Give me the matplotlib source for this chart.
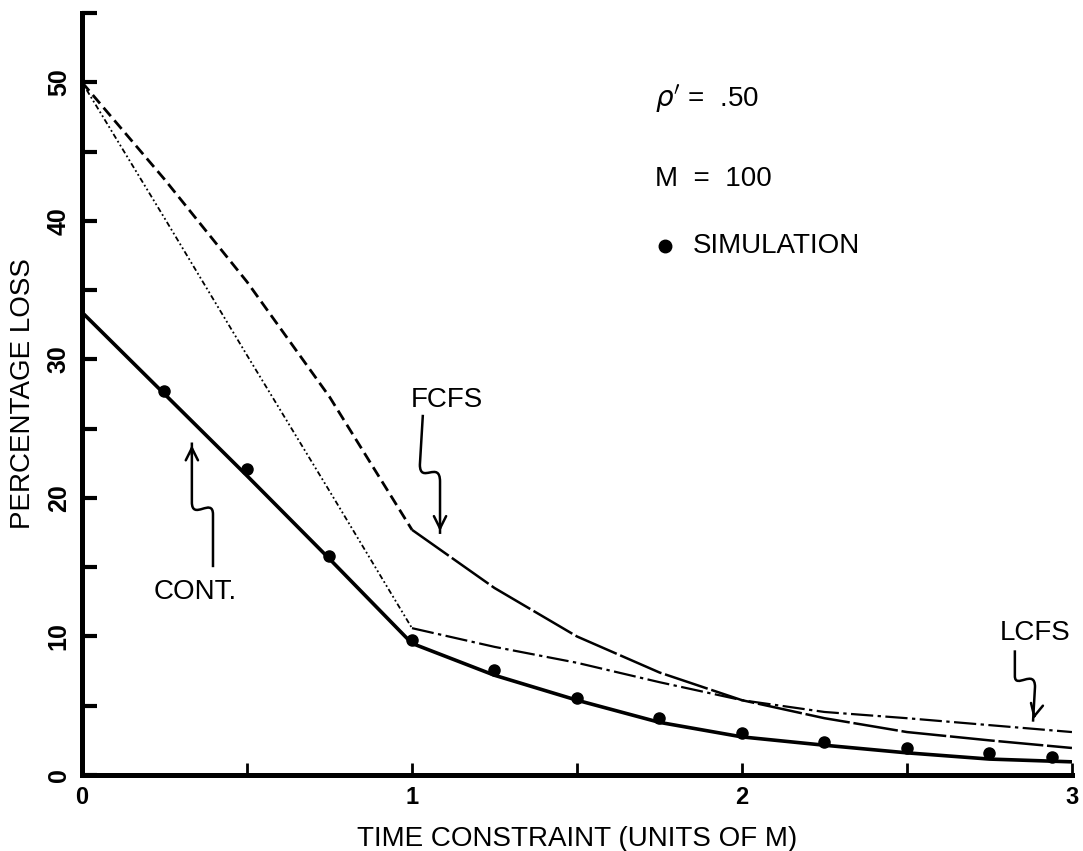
import numpy as np
import matplotlib
matplotlib.use("Agg")
import matplotlib.pyplot as plt
from matplotlib.path import Path
from matplotlib.patches import PathPatch

plt.rcParams['font.family'] = ['Liberation Sans', 'DejaVu Sans']

# time constraint (units of M)
t = np.array([0, 0.25, 0.5, 0.75, 1.0, 1.25, 1.5, 1.75, 2.0, 2.25, 2.5, 2.75, 3.0])
cont = np.array([33.4, 27.5, 21.6, 15.6, 9.5, 7.2, 5.4, 3.8, 2.75, 2.15, 1.6, 1.15, 0.95])
fcfs = np.array([50.0, 43.0, 35.6, 27.3, 17.7, 13.5, 10.0, 7.4, 5.4, 4.1, 3.1, 2.5, 1.95])
lcfs = np.array([50.0, 40.2, 30.3, 20.5, 10.6, 9.25, 8.1, 6.7, 5.4, 4.55, 4.1, 3.6, 3.1])

sim_t = np.array([0.25, 0.5, 0.75, 1.0, 1.25, 1.5, 1.75, 2.0, 2.25, 2.5, 2.75, 2.94])
sim_loss = np.array([27.7, 22.1, 15.8, 9.75, 7.6, 5.55, 4.1, 3.0, 2.4, 1.95, 1.6, 1.3])


def squiggle(ax, start, bend_a, c1, c2, bend_b, tip):
    # line with a little wiggle, arrowhead at tip
    verts = [start, bend_a, c1, c2, bend_b, tip]
    codes = [Path.MOVETO, Path.LINETO, Path.CURVE4, Path.CURVE4, Path.CURVE4, Path.LINETO]
    ax.add_patch(PathPatch(Path(verts, codes), fill=False, lw=1.8, color='black'))
    back = (bend_b[0], tip[1] + 0.25 * (bend_b[1] - tip[1]))
    ax.annotate("", xy=tip, xytext=back,
                arrowprops=dict(arrowstyle='->', lw=1.8, color='black', mutation_scale=22))


fig = plt.figure(figsize=(10.83, 8.51), dpi=100)
ax = fig.add_axes([0.0757, 0.0893, 0.9141, 0.8954])

low = t <= 1.0
high = t >= 1.0

ax.plot(t, cont, color='black', lw=2.6, solid_capstyle='round')
ax.plot(t[low], fcfs[low], color='black', lw=2.0, dashes=(4, 2))
ax.plot(t[high], fcfs[high], color='black', lw=1.8, dashes=(18, 1.5))
ax.plot(t[low], lcfs[low], color='black', lw=1.3, dashes=(1, 1.5, 1, 1.5, 3, 1.5))
ax.plot(t[high], lcfs[high], color='black', lw=1.6, dashes=(10, 2, 1.5, 2))
ax.plot(sim_t, sim_loss, 'o', color='black', ms=8, clip_on=False)

ax.set_xlim(0, 3)
ax.set_ylim(0, 55)
ax.set_xticks([0, 1, 2, 3])
ax.set_xticks([0.5, 1.5, 2.5], minor=True)
ax.set_yticks([0, 10, 20, 30, 40, 50])
ax.set_yticks([5, 15, 25, 35, 45, 55], minor=True)

for s in ['top', 'right']:
    ax.spines[s].set_visible(False)
ax.spines['left'].set_linewidth(3.6)
ax.spines['bottom'].set_linewidth(3.6)

ax.tick_params(axis='both', which='both', direction='in', color='black')
ax.tick_params(axis='y', which='both', length=11, width=3)
ax.tick_params(axis='x', which='both', length=9, width=2)
ax.tick_params(axis='y', pad=8, labelsize=18)
ax.tick_params(axis='x', pad=8, labelsize=17)
for lab in ax.get_yticklabels():
    lab.set_rotation(90)
    lab.set_va('center')
    lab.set_fontweight('bold')
for lab in ax.get_xticklabels():
    lab.set_fontweight('bold')

ax.set_xlabel("TIME CONSTRAINT (UNITS OF M)", fontsize=20, labelpad=12)
ax.set_ylabel("PERCENTAGE LOSS", fontsize=20, labelpad=8)

# curve labels with wiggly arrows
ax.text(1.106, 27.1, "FCFS", fontsize=20, ha='center', va='center')
squiggle(ax, (1.033, 26.0), (1.024, 22.4), (1.024, 20.95), (1.085, 22.76),
         (1.085, 21.17), (1.085, 17.4))

ax.text(0.342, 13.2, "CONT.", fontsize=20, ha='center', va='center')
squiggle(ax, (0.397, 15.0), (0.397, 18.8), (0.397, 20.1), (0.333, 18.3),
         (0.333, 19.7), (0.333, 24.0))

ax.text(2.888, 10.26, "LCFS", fontsize=20, ha='center', va='center')
squiggle(ax, (2.827, 9.0), (2.827, 7.15), (2.827, 6.14), (2.888, 7.73),
         (2.888, 6.36), (2.882, 3.85))

# parameters
ax.text(1.736, 48.8, r"$\rho'$ =  .50", fontsize=20, ha='left', va='center')
ax.text(1.736, 43.0, "M  =  100", fontsize=20, ha='left', va='center')
ax.plot([1.767], [38.15], 'o', color='black', ms=9)
ax.text(1.852, 38.15, "SIMULATION", fontsize=20, ha='left', va='center')

fig.savefig("out.png", dpi=100)
